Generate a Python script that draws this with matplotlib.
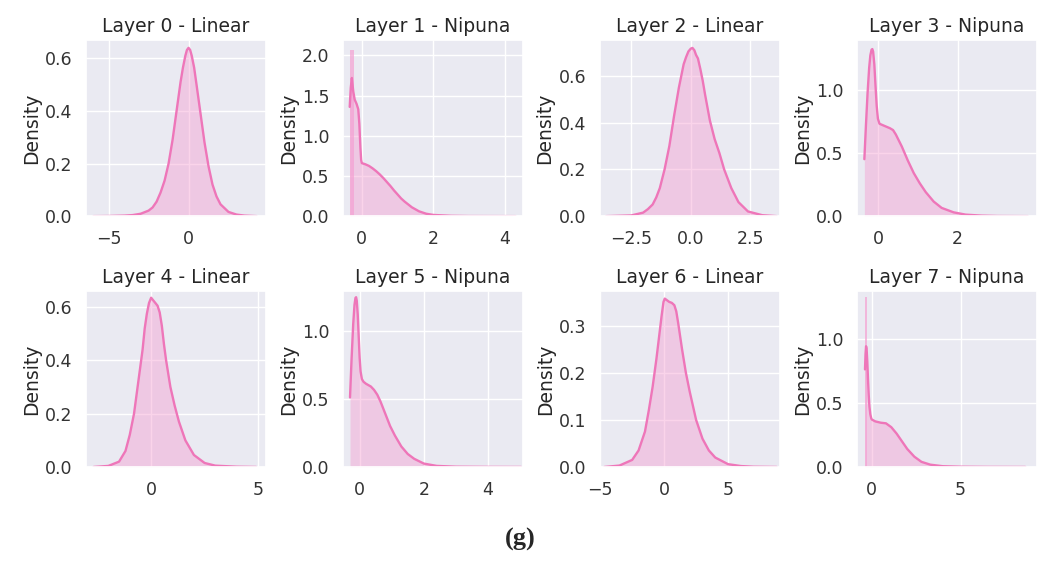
import matplotlib
matplotlib.use("Agg")
import matplotlib.pyplot as plt
import seaborn as sns
import numpy as np

sns.set_theme(style="darkgrid")
plt.rcParams['font.family'] = ['DejaVu Sans']

titles = ["Layer 0 - Linear", "Layer 1 - Nipuna", "Layer 2 - Linear", "Layer 3 - Nipuna",
          "Layer 4 - Linear", "Layer 5 - Nipuna", "Layer 6 - Linear", "Layer 7 - Nipuna"]

# KDE curves (x, density)
x0 = [-5.95, -5, -4, -3.5, -3, -2.5, -2.25, -2, -1.75, -1.5, -1.25, -1, -0.75, -0.5, -0.35, -0.2, -0.1, 0,
      0.1, 0.2, 0.35, 0.5, 0.75, 1, 1.25, 1.5, 1.75, 2, 2.5, 3, 3.5, 4.26]
d0 = [0, 0.0005, 0.002, 0.004, 0.009, 0.021, 0.033, 0.055, 0.09, 0.135, 0.2, 0.29, 0.4, 0.51, 0.565, 0.61, 0.632, 0.64,
      0.632, 0.61, 0.565, 0.5, 0.39, 0.28, 0.19, 0.12, 0.075, 0.045, 0.016, 0.006, 0.002, 0]

x1 = [-0.34, -0.31, -0.28, -0.24, -0.2, -0.15, -0.1, -0.07, -0.04, -0.02, 0, 0.1, 0.2, 0.3, 0.4, 0.5, 0.6, 0.7,
      0.8, 0.9, 1.0, 1.1, 1.2, 1.4, 1.6, 1.8, 2.0, 2.5, 3, 4.3]
d1 = [1.36, 1.6, 1.72, 1.55, 1.45, 1.4, 1.33, 1.15, 0.85, 0.7, 0.66, 0.645, 0.625, 0.595, 0.56, 0.52, 0.475, 0.425,
      0.375, 0.32, 0.27, 0.22, 0.18, 0.11, 0.06, 0.03, 0.015, 0.004, 0.001, 0]

x2 = [-3.55, -2.5, -2, -1.8, -1.6, -1.45, -1.3, -1.1, -0.9, -0.7, -0.5, -0.3, -0.2, -0.1, 0.0, 0.07, 0.15, 0.22, 0.3,
      0.4, 0.5, 0.6, 0.8, 1.0, 1.2, 1.4, 1.7, 2.0, 2.4, 3, 3.6]
d2 = [0, 0.003, 0.015, 0.03, 0.05, 0.08, 0.12, 0.2, 0.3, 0.43, 0.55, 0.65, 0.68, 0.705, 0.717, 0.72, 0.71, 0.69, 0.675,
      0.63, 0.58, 0.52, 0.41, 0.33, 0.27, 0.2, 0.12, 0.06, 0.02, 0.004, 0]

x3 = [-0.34, -0.3, -0.26, -0.22, -0.19, -0.16, -0.14, -0.12, -0.09, -0.06, -0.03, 0.0, 0.04, 0.15, 0.3, 0.38, 0.45,
      0.6, 0.75, 0.9, 1.05, 1.2, 1.4, 1.6, 1.9, 2.2, 2.6, 3.0, 3.76]
d3 = [0.45, 0.72, 0.97, 1.17, 1.27, 1.315, 1.32, 1.3, 1.2, 1.03, 0.87, 0.77, 0.73, 0.715, 0.695, 0.68, 0.645,
      0.55, 0.44, 0.34, 0.26, 0.19, 0.115, 0.065, 0.03, 0.012, 0.004, 0.001, 0]

x4 = [-2.69, -2, -1.5, -1.2, -1.0, -0.8, -0.6, -0.4, -0.3, -0.2, -0.1, 0.0, 0.1, 0.2, 0.3, 0.4, 0.5, 0.6, 0.7,
      0.9, 1.1, 1.3, 1.6, 2.0, 2.5, 3.0, 4.0, 4.91]
d4 = [0, 0.004, 0.02, 0.06, 0.12, 0.2, 0.32, 0.44, 0.52, 0.575, 0.615, 0.635, 0.625, 0.615, 0.605, 0.58, 0.53, 0.46, 0.4,
      0.3, 0.23, 0.17, 0.1, 0.045, 0.015, 0.005, 0.001, 0]

x5 = [-0.30, -0.25, -0.2, -0.16, -0.13, -0.11, -0.09, -0.06, -0.03, 0.0, 0.03, 0.07, 0.12, 0.2, 0.35, 0.45, 0.55,
      0.65, 0.8, 0.95, 1.1, 1.3, 1.5, 1.7, 2.0, 2.4, 3.0, 4.0, 5.03]
d5 = [0.51, 0.8, 1.05, 1.19, 1.24, 1.245, 1.22, 1.12, 0.96, 0.8, 0.7, 0.645, 0.625, 0.61, 0.59, 0.565, 0.53,
      0.48, 0.39, 0.3, 0.23, 0.15, 0.095, 0.06, 0.025, 0.008, 0.002, 0.0005, 0]

x6 = [-4.67, -3.5, -2.5, -2, -1.5, -1.2, -0.9, -0.6, -0.4, -0.2, -0.05, 0.05, 0.2, 0.4, 0.6, 0.8, 0.95, 1.1, 1.4,
      1.7, 2.0, 2.5, 3.0, 3.5, 4.0, 5.0, 6.0, 7.0, 8.8]
d6 = [0, 0.003, 0.015, 0.035, 0.075, 0.12, 0.17, 0.23, 0.275, 0.32, 0.35, 0.357, 0.354, 0.35, 0.348, 0.343, 0.33, 0.305, 0.25,
      0.2, 0.16, 0.1, 0.06, 0.035, 0.02, 0.006, 0.002, 0.0005, 0]

x7 = [-0.38, -0.35, -0.32, -0.29, -0.25, -0.21, -0.17, -0.13, -0.08, -0.03, 0.0, 0.2, 0.5, 0.8, 1.1, 1.4, 1.7, 2.0,
      2.4, 2.8, 3.3, 4.0, 5.0, 6.5, 8.65]
d7 = [0.76, 0.88, 0.94, 0.92, 0.82, 0.68, 0.56, 0.47, 0.41, 0.38, 0.37, 0.355, 0.345, 0.34, 0.31, 0.26, 0.2, 0.14,
      0.08, 0.04, 0.018, 0.006, 0.002, 0.0005, 0]

curves_x = [x0, x1, x2, x3, x4, x5, x6, x7]
curves_d = [d0, d1, d2, d3, d4, d5, d6, d7]

# tall histogram bins that rise above the KDE (panel index, bin left, bin right, height)
spike_panel = [1, 7]
spike_left = [-0.32, -0.36]
spike_right = [-0.22, -0.29]
spike_height = [2.07, 1.32]

# axis ranges and ticks
xlims = [(-6.4, 4.85), (-0.52, 4.51), (-3.8, 3.74), (-0.52, 3.99),
         (-3.03, 5.37), (-0.51, 5.09), (-4.94, 9.06), (-0.82, 9.3)]
ylims = [0.669, 2.19, 0.753, 1.39, 0.66, 1.29, 0.373, 1.37]
xticks = [[-5, 0], [0, 2, 4], [-2.5, 0.0, 2.5], [0, 2],
          [0, 5], [0, 2, 4], [-5, 0, 5], [0, 5]]
yticks = [[0.0, 0.2, 0.4, 0.6], [0.0, 0.5, 1.0, 1.5, 2.0], [0.0, 0.2, 0.4, 0.6], [0.0, 0.5, 1.0],
          [0.0, 0.2, 0.4, 0.6], [0.0, 0.5, 1.0], [0.0, 0.1, 0.2, 0.3], [0.0, 0.5, 1.0]]

line_pink = "#ee76b9"
fill_pink = "#f5a0d2"

fig = plt.figure(figsize=(10.4, 5.83), dpi=100)
gs = fig.add_gridspec(2, 4, left=0.083, right=0.997, top=0.931, bottom=0.199,
                      wspace=0.43, hspace=0.426)

for i in range(8):
    ax = fig.add_subplot(gs[i // 4, i % 4])
    xs = np.array(curves_x[i])
    ds = np.array(curves_d[i])
    ax.fill_between(xs, 0, ds, color=fill_pink, alpha=0.45, lw=0)
    for k, p in enumerate(spike_panel):
        if p == i:
            ax.bar(spike_left[k], spike_height[k], width=spike_right[k] - spike_left[k],
                   align='edge', color=fill_pink, alpha=0.7, lw=0)
    ax.plot(xs, ds, color=line_pink, lw=1.7)
    ax.set_xlim(*xlims[i])
    ax.set_ylim(0, ylims[i])
    ax.set_xticks(xticks[i])
    ax.set_yticks(yticks[i])
    ax.tick_params(labelsize=12.5, colors="#333333", pad=4)
    ax.set_title(titles[i], fontsize=13.5, color="#262626", pad=6)
    ax.set_ylabel("Density", fontsize=13.5, color="#262626", labelpad=3)

fig.text(0.5, 0.075, "(g)", ha="center", va="center", fontsize=19, fontweight="bold",
         family=["Liberation Serif", "DejaVu Serif"])

fig.savefig("out.png", dpi=100)
